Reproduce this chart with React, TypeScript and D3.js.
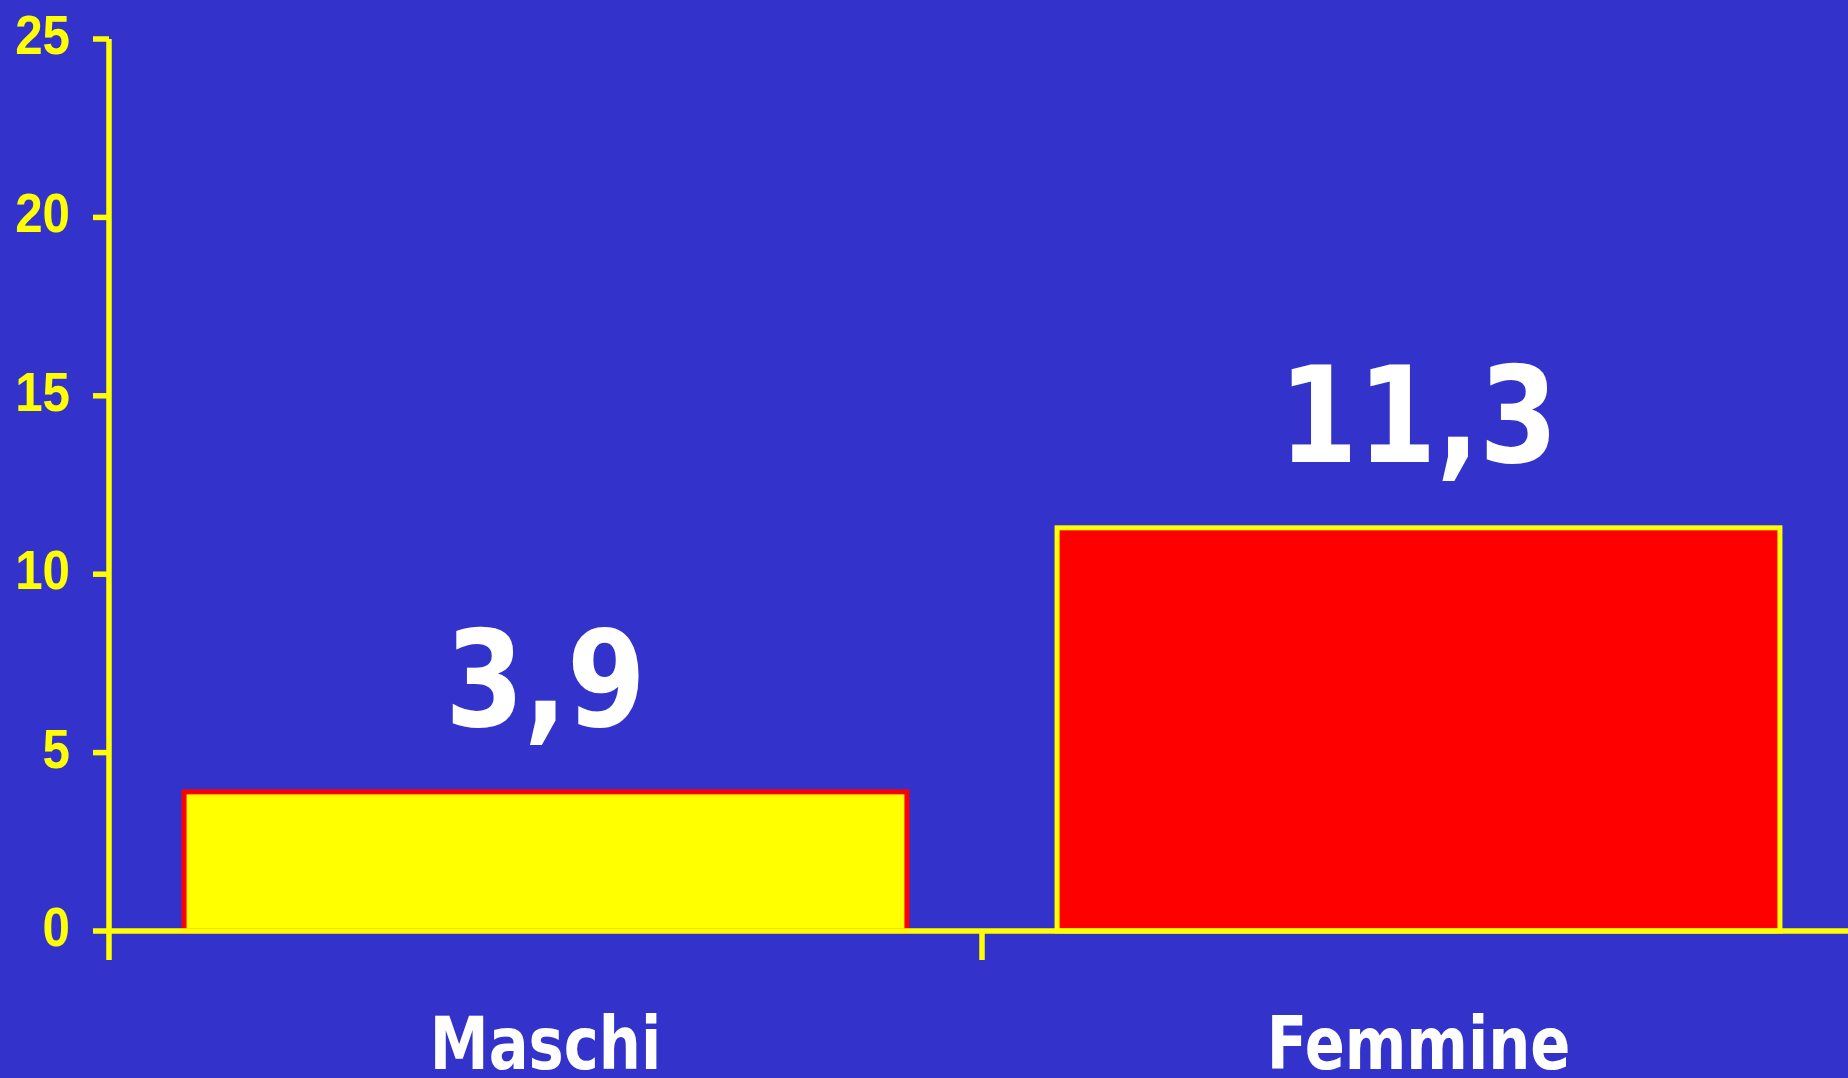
import React from "react";
import * as d3 from "d3";

const categories = ["Maschi", "Femmine"];
const values = [3.9, 11.3];
const valueLabels = ["3,9", "11,3"];
const yTicks = [0, 5, 10, 15, 20, 25];
const barFills = ["#FFFF00", "#FF0000"];
const barStrokes = ["#FF0000", "#FFFF00"];

const W = 1848;
const H = 1078;
const BG = "#3333CC";
const YELLOW = "#FFFF00";

export default function App() {
  const x = d3
    .scaleBand<string>()
    .domain(categories)
    .range([109, 1855])
    .paddingInner(0.172)
    .paddingOuter(0.086);
  const y = d3.scaleLinear().domain([0, 25]).range([931, 39]);
  const step = x.step();
  const x0 = 109;
  const tickBottom = 960;
  const sw = 5.5;

  return (
    <svg
      width={W}
      height={H}
      style={{ position: "fixed", left: 0, top: 0, display: "block" }}
    >
      <rect x={0} y={0} width={W} height={H} fill={BG} />
      {/* bars */}
      {categories.map((c, i) => (
        <rect
          key={c}
          x={x(c)!}
          y={y(values[i])}
          width={x.bandwidth()}
          height={y(0) - y(values[i])}
          fill={barFills[i]}
          stroke={barStrokes[i]}
          strokeWidth={5}
        />
      ))}
      {/* y axis */}
      <line x1={x0} x2={x0} y1={y(25)} y2={tickBottom} stroke={YELLOW} strokeWidth={sw} />
      {yTicks.map((t) => (
        <g key={t}>
          <line x1={93} x2={x0} y1={y(t)} y2={y(t)} stroke={YELLOW} strokeWidth={sw} />
          <text
            transform={`translate(70, ${y(t) + 15}) scale(0.88, 1)`}
            textAnchor="end"
            fill={YELLOW}
            fontFamily="'Liberation Sans', Arial, sans-serif"
            fontWeight="bold"
            fontSize={56}
          >
            {t}
          </text>
        </g>
      ))}
      {/* x axis */}
      <line x1={x0} x2={W} y1={y(0)} y2={y(0)} stroke={YELLOW} strokeWidth={sw} />
      {categories.map((c, i) =>
        i === 0 ? null : (
          <line
            key={c}
            x1={x0 + step * i}
            x2={x0 + step * i}
            y1={y(0)}
            y2={tickBottom}
            stroke={YELLOW}
            strokeWidth={sw}
          />
        )
      )}
      {/* value labels */}
      {categories.map((c, i) => (
        <text
          key={c}
          transform={`translate(${x(c)! + x.bandwidth() / 2}, ${y(values[i]) - 66}) scale(0.82, 0.97)`}
          textAnchor="middle"
          fill="#FFFFFF"
          fontFamily="'DejaVu Sans', Verdana, sans-serif"
          fontWeight="bold"
          fontSize={138}
        >
          {valueLabels[i]}
        </text>
      ))}
      {/* category labels */}
      {categories.map((c) => (
        <text
          key={c}
          transform={`translate(${x(c)! + x.bandwidth() / 2}, 1069) scale(0.81, 1)`}
          textAnchor="middle"
          fill="#FFFFFF"
          fontFamily="'DejaVu Sans', Verdana, sans-serif"
          fontWeight="bold"
          fontSize={73}
        >
          {c}
        </text>
      ))}
    </svg>
  );
}
